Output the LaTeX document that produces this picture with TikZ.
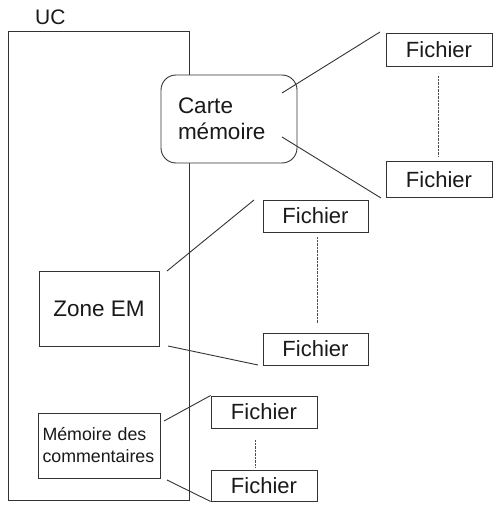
\documentclass[tikz,border=0pt]{standalone}
\usepackage{fontspec}
\setmainfont{Liberation Sans}
\begin{document}
\begin{tikzpicture}[x=1pt,y=-1pt,
  ln/.style={draw=black!80, line width=0.9pt},
  box/.style={ln, rectangle, inner sep=0pt, text=black!90},
  file/.style={box, minimum width=106, font=\fontsize{22}{26}\selectfont},
  dotline/.style={draw=black!70, line width=0.7pt, dash pattern=on 0.7pt off 0.7pt}]
\useasboundingbox (0,0) rectangle (498,506);
% main unit
\node[box, minimum width=181, minimum height=469] (uc) at (98.5,265.5) {};
\node[anchor=base west, inner sep=0pt, text=black!90, font=\fontsize{21}{25}\selectfont] (uclabel) at (35,24) {UC};
% inner memories
\node[box, rounded corners=15pt, minimum width=136, minimum height=88, text width=102, align=left,
      font=\fontsize{22.5}{26}\selectfont, fill=white] (carte) at (229,119) {Carte\\mémoire};
\node[box, minimum width=120, minimum height=75, font=\fontsize{22.5}{27}\selectfont] (zone) at (99,308.5) {Zone EM};
\node[box, minimum width=122, minimum height=65, text width=113, align=left,
      font=\fontsize{17.8}{22}\selectfont] (memo) at (99,445.5) {Mémoire des\\commentaires};
% files
\node[file, minimum height=33] (f1) at (439,49.5) {Fichier};
\node[file, minimum height=36] (f2) at (439,179.5) {Fichier};
\node[file, minimum width=105, minimum height=32] (f3) at (315.5,216) {Fichier};
\node[file, minimum width=105, minimum height=32] (f4) at (315.5,349) {Fichier};
\node[file, minimum height=32] (f5) at (264,412) {Fichier};
\node[file, minimum height=31] (f6) at (264,485.5) {Fichier};
% connector ends
\coordinate (c1) at (282,93);  \coordinate (e1) at (380,32);
\coordinate (c2) at (282,137); \coordinate (e2) at (381,198);
\coordinate (c3) at (167,271); \coordinate (e3) at (254,200);
\coordinate (c4) at (168,346); \coordinate (e4) at (258,365);
\coordinate (c5) at (164,421);
\coordinate (c6) at (167,480);
\draw[ln] (c1) -- (e1);
\draw[ln] (c2) -- (e2);
\draw[ln] (c3) -- (e3);
\draw[ln] (c4) -- (e4);
\draw[ln] (c5) -- (f5.north west);
\draw[ln] (c6) -- (f6.south west);
% dotted continuations
\coordinate (d1a) at (438,76);  \coordinate (d1b) at (438,156);
\coordinate (d2a) at (317,237); \coordinate (d2b) at (317,323);
\coordinate (d3a) at (255,440); \coordinate (d3b) at (255,467);
\draw[dotline] (d1a) -- (d1b);
\draw[dotline] (d2a) -- (d2b);
\draw[dotline] (d3a) -- (d3b);
\end{tikzpicture}
\end{document}
